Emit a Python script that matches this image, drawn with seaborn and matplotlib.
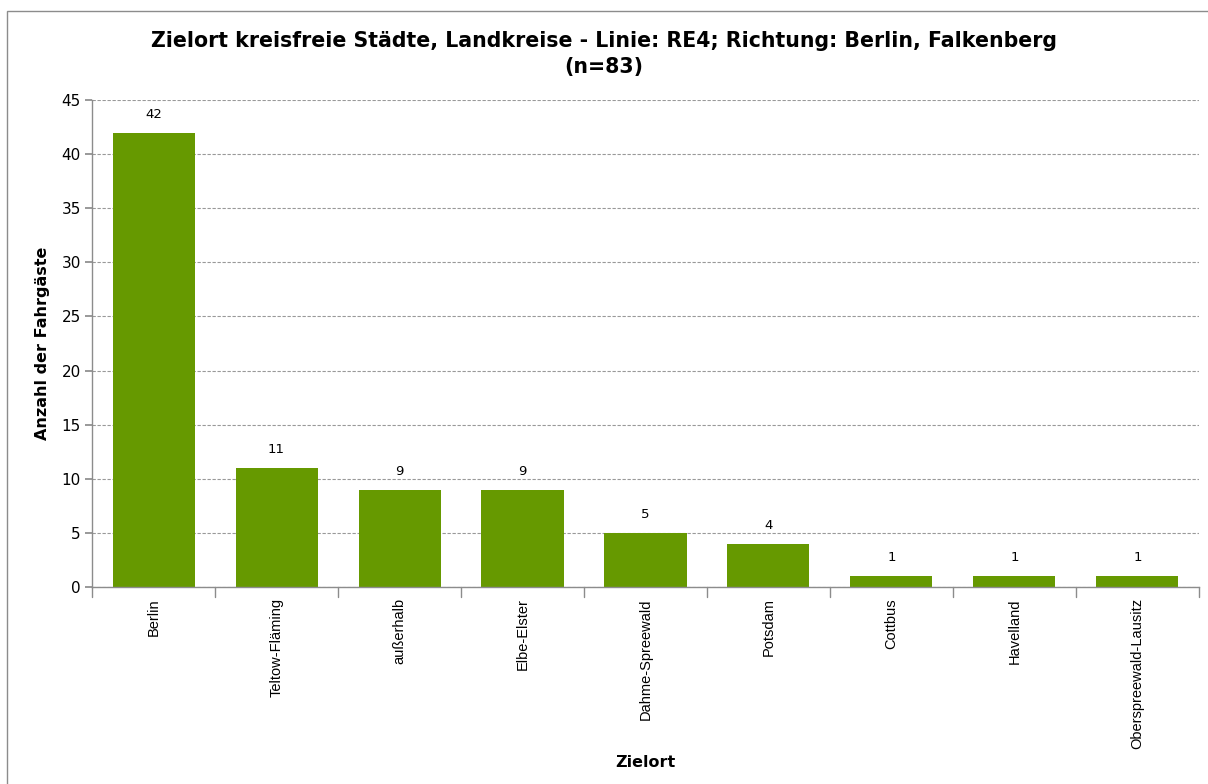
import matplotlib
matplotlib.use("Agg")
import matplotlib.pyplot as plt
import seaborn as sns
import pandas as pd
from matplotlib.patches import Rectangle

categories = ["Berlin", "Teltow-Fläming", "außerhalb", "Elbe-Elster", "Dahme-Spreewald",
              "Potsdam", "Cottbus", "Havelland", "Oberspreewald-Lausitz"]
values = [42, 11, 9, 9, 5, 4, 1, 1, 1]
yticks = [0, 5, 10, 15, 20, 25, 30, 35, 40, 45]

sns.set_theme(style="white")
plt.rcParams['font.family'] = ['DejaVu Sans']
plt.rcParams['text.color'] = 'black'
plt.rcParams['xtick.color'] = 'black'
plt.rcParams['ytick.color'] = 'black'
plt.rcParams['axes.labelcolor'] = 'black'

df = pd.DataFrame({"Zielort": categories, "Anzahl": values})

fig = plt.figure(figsize=(12.08, 7.84), dpi=100)
ax = fig.add_axes([0.0762, 0.2513, 0.9163, 0.6211])

sns.barplot(data=df, x="Zielort", y="Anzahl", color="#669900", saturation=1,
            width=0.667, ax=ax, edgecolor="none")

ax.set_ylim(0, 45)
ax.set_xlim(-0.5, len(categories) - 0.5)
ax.set_yticks(yticks)
ax.set_yticklabels([str(t) for t in yticks], fontsize=11)
ax.yaxis.grid(True, linestyle=(0, (3, 1.5)), color="#999999", linewidth=0.8)
ax.set_axisbelow(True)

ax.set_xticks(range(len(categories)))
ax.set_xticklabels(categories, rotation=90, fontsize=10.5, family=['Liberation Sans'])
ax.tick_params(axis='x', length=0, pad=8)
ax.tick_params(axis='y', length=5, left=True, color="#8c8c8c", pad=3)
for b in [i - 0.5 for i in range(len(categories) + 1)]:
    ax.plot([b, b], [0, -0.9], color="#8c8c8c", lw=1, clip_on=False)

for s in ["top", "right"]:
    ax.spines[s].set_visible(False)
for s in ["left", "bottom"]:
    ax.spines[s].set_color("#8c8c8c")
    ax.spines[s].set_linewidth(1)

for i, v in enumerate(values):
    ax.text(i, v + 1.1, str(v), ha="center", va="bottom", fontsize=9.5)

ax.set_xlabel("Zielort", fontsize=11.5, fontweight="bold")
ax.xaxis.set_label_coords(0.5, -0.345)
ax.set_ylabel("Anzahl der Fahrgäste", fontsize=11.5, fontweight="bold", labelpad=8)

fig.text(0.5, 0.961, "Zielort kreisfreie Städte, Landkreise - Linie: RE4; Richtung: Berlin, Falkenberg\n(n=83)",
         ha="center", va="top", fontsize=14.8, fontweight="bold", linespacing=1.4)

fig.patches.append(Rectangle((0.006, -0.01), 1.2, 0.996, transform=fig.transFigure,
                             fill=False, edgecolor="#8c8c8c", lw=1))

fig.savefig("out.png", dpi=100, facecolor="white")
